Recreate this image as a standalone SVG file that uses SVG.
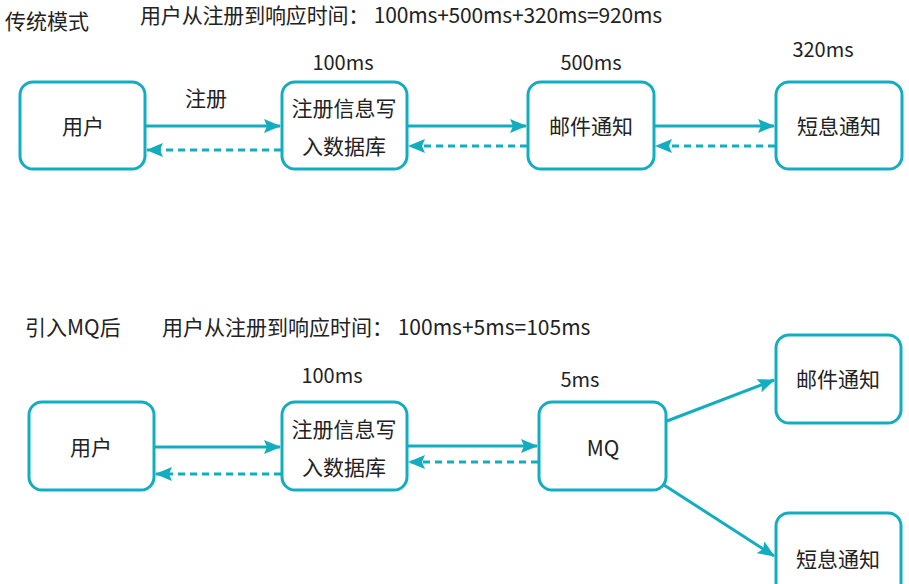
<svg xmlns="http://www.w3.org/2000/svg" width="909" height="584" viewBox="0 0 909 584">
  <defs>
    <style>
      .box { fill: #ffffff; stroke: #12aebf; stroke-width: 3; }
      .t { font-family: "Microsoft YaHei", "Noto Sans CJK SC", "Noto Sans", sans-serif; font-size: 21px; fill: #222222; }
      .ms { font-size: 20px; }
      .c { text-anchor: middle; }
      .solid { stroke: #12aebf; stroke-width: 3; fill: none; marker-end: url(#head); }
      .dash { stroke: #12aebf; stroke-width: 3; fill: none; stroke-dasharray: 7 5; marker-end: url(#head); }
    </style>
    <marker id="head" markerUnits="userSpaceOnUse" markerWidth="18" markerHeight="14" refX="16" refY="7" orient="auto">
      <path d="M0,0 L17,7 L0,14 L3,7 Z" fill="#12aebf"/>
    </marker>
  </defs>

  <rect width="909" height="584" fill="#ffffff"/>

  <!-- headings -->
  <g id="titles">
    <text class="t" x="5" y="29">传统模式</text>
    <text class="t" x="140" y="23" textLength="522" lengthAdjust="spacing">用户从注册到响应时间： 100ms+500ms+320ms=920ms</text>
    <text class="t" x="25" y="335">引入MQ后</text>
    <text class="t" x="162" y="335">用户从注册到响应时间： 100ms+5ms=105ms</text>
  </g>

  <!-- timing labels -->
  <g id="labels">
    <text class="t ms c" x="343" y="70">100ms</text>
    <text class="t ms c" x="591" y="70">500ms</text>
    <text class="t ms c" x="823" y="57">320ms</text>
    <text class="t c" x="206" y="106">注册</text>
    <text class="t ms c" x="332" y="383">100ms</text>
    <text class="t ms c" x="580" y="387">5ms</text>
  </g>

  <!-- connectors -->
  <g id="connectors">
    <line class="solid" x1="146" y1="126" x2="280" y2="126"/>
    <line class="dash" x1="281" y1="150" x2="147" y2="150"/>
    <line class="solid" x1="408" y1="126" x2="526" y2="126"/>
    <line class="dash" x1="527" y1="146" x2="409" y2="146"/>
    <line class="solid" x1="655" y1="126" x2="774" y2="126"/>
    <line class="dash" x1="775" y1="146" x2="656" y2="146"/>

    <line class="solid" x1="155" y1="447" x2="280" y2="447"/>
    <line class="dash" x1="281" y1="474" x2="156" y2="474"/>
    <line class="solid" x1="408" y1="446" x2="537" y2="446"/>
    <line class="dash" x1="538" y1="462" x2="409" y2="462"/>
    <line class="solid" x1="667" y1="421" x2="774" y2="380"/>
    <line class="solid" x1="664" y1="485" x2="774" y2="556"/>
  </g>

  <!-- traditional flow -->
  <g id="user-a">
    <rect class="box" x="20" y="82" width="125" height="87" rx="13"/>
    <text class="t c" x="83" y="134">用户</text>
  </g>
  <g id="register-a">
    <rect class="box" x="282" y="82" width="125" height="87" rx="13"/>
    <text class="t c" x="344" y="116">注册信息写</text>
    <text class="t c" x="344" y="154">入数据库</text>
  </g>
  <g id="mail-a">
    <rect class="box" x="528" y="82" width="126" height="87" rx="13"/>
    <text class="t c" x="591" y="134">邮件通知</text>
  </g>
  <g id="sms-a">
    <rect class="box" x="776" y="82" width="126" height="87" rx="13"/>
    <text class="t c" x="839" y="134">短息通知</text>
  </g>

  <!-- flow with MQ -->
  <g id="user-b">
    <rect class="box" x="29" y="402" width="125" height="88" rx="13"/>
    <text class="t c" x="91" y="455">用户</text>
  </g>
  <g id="register-b">
    <rect class="box" x="282" y="402" width="125" height="88" rx="13"/>
    <text class="t c" x="344" y="437">注册信息写</text>
    <text class="t c" x="344" y="475">入数据库</text>
  </g>
  <g id="mq">
    <rect class="box" x="539" y="402" width="127" height="88" rx="13"/>
    <text class="t c" x="603" y="456">MQ</text>
  </g>
  <g id="mail-b">
    <rect class="box" x="776" y="335" width="125" height="88" rx="13"/>
    <text class="t c" x="838" y="387">邮件通知</text>
  </g>
  <g id="sms-b">
    <rect class="box" x="776" y="513" width="125" height="88" rx="13"/>
    <text class="t c" x="838" y="567">短息通知</text>
  </g>
</svg>
